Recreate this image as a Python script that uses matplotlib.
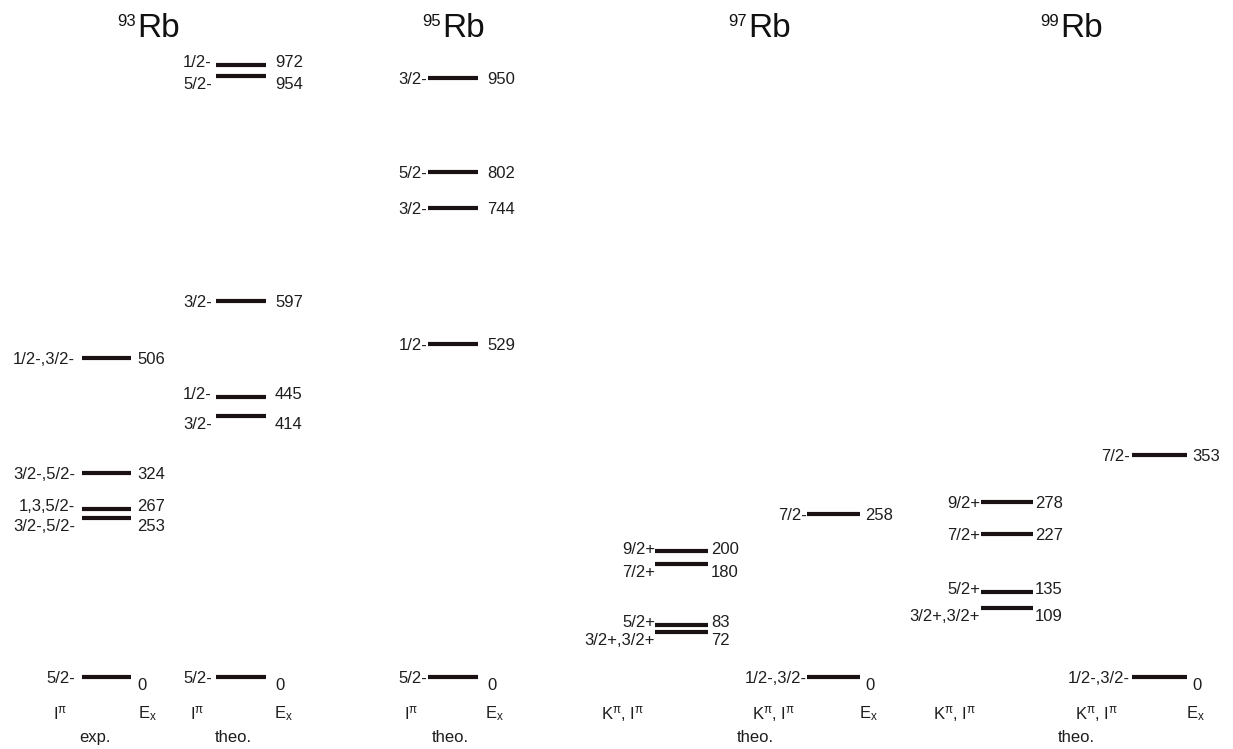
import matplotlib
matplotlib.use("Agg")
import matplotlib.pyplot as plt
import matplotlib.transforms as mtransforms

plt.rcParams['font.family'] = ['Liberation Sans', 'DejaVu Sans']
plt.rcParams['mathtext.fontset'] = 'custom'
plt.rcParams['mathtext.rm'] = 'Liberation Sans'
plt.rcParams['mathtext.it'] = 'Liberation Sans'
plt.rcParams['mathtext.bf'] = 'Liberation Sans:bold'

# ---------------- data (keV) ----------------
rb93_exp_E = [0, 253, 267, 324, 506]
rb93_exp_spin = ['5/2-', '3/2-,5/2-', '1,3,5/2-', '3/2-,5/2-', '1/2-,3/2-']

rb93_theo_E = [0, 414, 445, 597, 954, 972]
rb93_theo_spin = ['5/2-', '3/2-', '1/2-', '3/2-', '5/2-', '1/2-']

rb95_theo_E = [0, 529, 744, 802, 950]
rb95_theo_spin = ['5/2-', '1/2-', '3/2-', '5/2-', '3/2-']

rb97_band_E = [72, 83, 180, 200]
rb97_band_spin = ['3/2+,3/2+', '5/2+', '7/2+', '9/2+']
rb97_theo_E = [0, 258]
rb97_theo_spin = ['1/2-,3/2-', '7/2-']

rb99_band_E = [109, 135, 227, 278]
rb99_band_spin = ['3/2+,3/2+', '5/2+', '7/2+', '9/2+']
rb99_theo_E = [0, 353]
rb99_theo_spin = ['1/2-,3/2-', '7/2-']

mass_numbers = ['93', '95', '97', '99']

# ---------------- layout ----------------
fig = plt.figure(figsize=(12.33, 7.49), dpi=100)
ax = fig.add_axes([0, 0, 1, 1])
ax.set_xlim(0, 1233)
ax.set_ylim(-114.3, 1074.6)
ax.axis('off')

LINE_COLOR = '#1a1212'
TXT = '#1e1e1e'
FS = 12

# columns: (energies, spins, x_left, x_right, spin_gap_px, energy_gap_px)
columns = [
    (rb93_exp_E, rb93_exp_spin, 82, 131, 7, 6),
    (rb93_theo_E, rb93_theo_spin, 216, 266, 4, 9),
    (rb95_theo_E, rb95_theo_spin, 428, 478, 1, 9),
    (rb97_band_E, rb97_band_spin, 655, 708, 0, 3),
    (rb97_theo_E, rb97_theo_spin, 807, 860, 0, 5),
    (rb99_band_E, rb99_band_spin, 981, 1033, 1, 2),
    (rb99_theo_E, rb99_theo_spin, 1132, 1187, 2, 5),
]


def label_shifts(energies):
    """Shift labels of closely spaced levels apart (in points)."""
    srt = sorted(energies)
    shifts = {}
    for i, e in enumerate(srt):
        s = 0.0
        if e == 0:
            s -= 5.0
        if i + 1 < len(srt) and srt[i + 1] - e < 35:
            s -= 5.0
        if i - 1 >= 0 and e - srt[i - 1] < 35:
            s += 2.5
        shifts[e] = s
    return shifts


for energies, spins, x0, x1, sg, eg in columns:
    shifts = label_shifts(energies)
    for e, sp in zip(energies, spins):
        ax.plot([x0, x1], [e, e], color=LINE_COLOR, lw=3.0,
                solid_capstyle='butt')
        sh = shifts[e]
        spin_sh = sh if e != 0 else 0.0
        ax.annotate(sp, xy=(x0, e), xytext=(-sg * 0.72, spin_sh),
                    textcoords='offset points', ha='right',
                    va='center_baseline', fontsize=FS, color=TXT)
        ax.annotate(str(e), xy=(x1, e), xytext=(eg * 0.72, sh),
                    textcoords='offset points', ha='left',
                    va='center_baseline', fontsize=FS, color=TXT)

# titles: mass number as small superscript, element symbol large
trans = mtransforms.blended_transform_factory(ax.transData, ax.transAxes)
title_x = [137, 442, 748, 1060]
for a, xr in zip(mass_numbers, title_x):
    ax.text(xr, 0.9506, 'Rb', transform=trans, ha='left', va='baseline',
            fontsize=24, color='#111111')
    ax.text(xr - 1, 0.981, a, transform=trans, ha='right', va='top',
            fontsize=12, color='#111111')

# bottom axis captions
row1 = 0.047
row2 = 0.016
captions = [
    (60, r'I$^{\pi}$'), (147, r'E$_{x}$'),
    (197, r'I$^{\pi}$'), (283, r'E$_{x}$'),
    (411, r'I$^{\pi}$'), (494, r'E$_{x}$'),
    (623, r'K$^{\pi}$, I$^{\pi}$'), (774, r'K$^{\pi}$, I$^{\pi}$'),
    (868, r'E$_{x}$'),
    (955, r'K$^{\pi}$, I$^{\pi}$'), (1097, r'K$^{\pi}$, I$^{\pi}$'),
    (1195, r'E$_{x}$'),
]
for xc, txt in captions:
    ax.text(xc, row1, txt, transform=trans, ha='center', va='center',
            fontsize=FS, color=TXT)

groups = [(95, 'exp.'), (233, 'theo.'), (450, 'theo.'), (755, 'theo.'),
          (1076, 'theo.')]
for xc, txt in groups:
    ax.text(xc, row2, txt, transform=trans, ha='center', va='center',
            fontsize=FS, color=TXT)

fig.savefig('out.png', dpi=100)
